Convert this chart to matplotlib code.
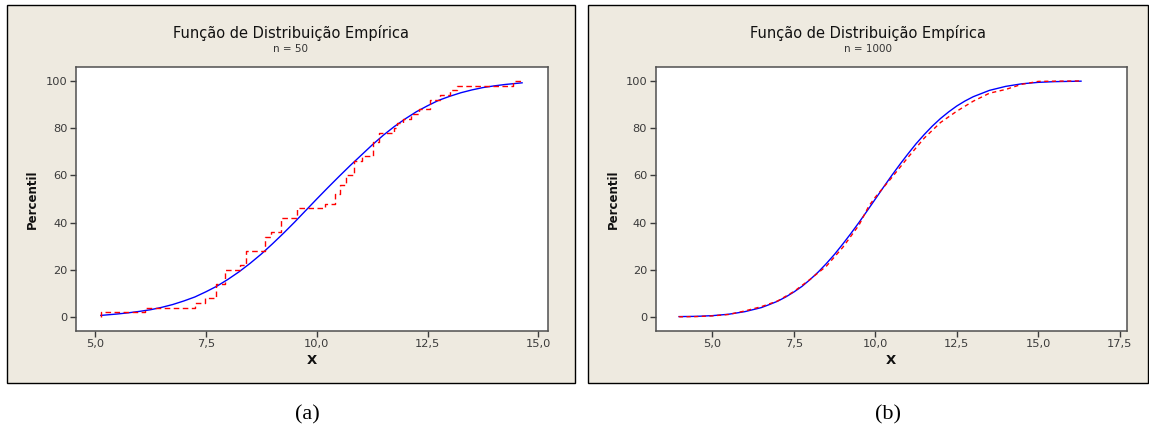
import matplotlib
matplotlib.use("Agg")
import matplotlib.pyplot as plt
from matplotlib.patches import Rectangle

# =======================
# Dados
# =======================
# n = 50 : pontos de salto da FDE e percentil acumulado depois de cada salto
fde50_x = [5.13, 6.13, 7.26, 7.48, 7.72, 7.94, 8.27, 8.41, 8.84, 8.96,
           9.19, 9.55, 10.19, 10.40, 10.52, 10.65, 10.85, 11.03, 11.26, 11.40,
           11.74, 11.82, 11.95, 12.12, 12.30, 12.55, 12.77, 13.00, 13.16, 14.43]
fde50_pct = [2, 4, 6, 8, 14, 20, 22, 28, 34, 36,
             42, 46, 48, 52, 56, 60, 66, 68, 74, 78,
             80, 82, 84, 86, 88, 92, 94, 96, 98, 100]
fde50_max = 14.63

# n = 50 : curva normal ajustada
normal50_x = [5.13, 5.5, 5.75, 6.0, 6.25, 6.5, 6.75, 7.0, 7.25, 7.5, 7.75,
              8.0, 8.25, 8.5, 8.75, 9.0, 9.25, 9.5, 9.75, 10.0, 10.25,
              10.5, 10.75, 11.0, 11.25, 11.5, 11.75, 12.0, 12.25, 12.5, 12.75,
              13.0, 13.25, 13.5, 13.75, 14.0, 14.25, 14.63]
normal50_pct = [0.7, 1.3, 1.8, 2.4, 3.1, 4.1, 5.3, 6.8, 8.5, 10.7, 13.1,
                16.0, 19.2, 22.8, 26.7, 31.0, 35.5, 40.2, 45.1, 50.0, 54.8,
                59.5, 64.1, 68.5, 72.9, 77.0, 80.7, 84.0, 87.0, 89.5, 91.8,
                93.5, 95.0, 96.2, 97.2, 97.9, 98.5, 99.2]

# n = 1000 : FDE (degraus muito finos, lida como curva)
fde1000_x = [3.98, 3.98, 4.5, 5.0, 5.5, 6.0, 6.5, 7.0, 7.5, 8.0, 8.5, 9.0,
             9.5, 9.8, 10.0, 10.5, 11.0, 11.5, 12.0, 12.5, 13.0, 13.5,
             14.0, 14.5, 15.0, 15.5, 16.31]
fde1000_pct = [0.0, 0.1, 0.2, 0.5, 1.1, 2.6, 4.4, 6.8, 10.8, 16.0, 21.6, 29.5,
               39.0, 47.0, 50.8, 59.0, 67.6, 75.8, 82.4, 87.2, 91.4, 94.8,
               96.4, 98.6, 99.8, 99.9, 100.0]

# n = 1000 : curva normal ajustada
normal1000_x = [3.98, 4.5, 5.0, 5.5, 6.0, 6.5, 6.75, 7.0, 7.25, 7.5, 7.75, 8.0,
                8.25, 8.5, 8.75, 9.0, 9.25, 9.5, 9.75, 10.0, 10.25, 10.5, 10.75,
                11.0, 11.25, 11.5, 11.75, 12.0, 12.25, 12.5, 12.75, 13.0, 13.5,
                14.0, 14.5, 15.0, 15.5, 16.31]
normal1000_pct = [0.2, 0.3, 0.6, 1.2, 2.3, 4.0, 5.3, 6.7, 8.5, 10.6, 13.0, 15.9,
                  19.1, 22.7, 26.6, 30.9, 35.4, 40.1, 45.0, 50.0, 55.0, 59.9, 64.6,
                  69.1, 73.4, 77.3, 80.9, 84.1, 86.9, 89.4, 91.5, 93.3, 96.0,
                  97.7, 98.8, 99.4, 99.7, 99.9]

titulo = "Função de Distribuição Empírica"
subtitulos = ["n = 50", "n = 1000"]
legendas = ["(a)", "(b)"]
xticks_50 = [5.0, 7.5, 10.0, 12.5, 15.0]
xticks_1000 = [5.0, 7.5, 10.0, 12.5, 15.0, 17.5]
yticks = [0, 20, 40, 60, 80, 100]

# =======================
# Layout (pixels)
# =======================
W, H = 1149, 428
BEGE = "#EEEAE0"
CINZA = "#3a3a3a"


def caixa(x0, y0, x1, y1):
    # retângulo em pixels (origem no topo) -> coordenadas de figura
    return [x0 / W, 1 - y1 / H, (x1 - x0) / W, (y1 - y0) / H]


def fmt(v):
    return f"{v:.1f}".replace(".", ",")


fig = plt.figure(figsize=(W / 100, H / 100), dpi=100)
fig.patch.set_facecolor("white")


def painel(quadro, eixo, xlim, xticks, subtitulo, legenda, leg_x):
    qx0, qy0, qx1, qy1 = quadro
    r = caixa(*quadro)
    # moldura bege por trás do gráfico
    fig.patches.append(Rectangle((r[0], r[1]), r[2], r[3], transform=fig.transFigure,
                                 facecolor=BEGE, edgecolor="black", lw=1.0, zorder=-1))
    ax = fig.add_axes(caixa(*eixo))
    ax.set_zorder(1)
    ax.set_facecolor("white")
    ax.set_xlim(*xlim)
    ax.set_ylim(-5.9, 105.9)
    ax.set_xticks(xticks)
    ax.set_xticklabels([fmt(v) for v in xticks])
    ax.set_yticks(yticks)
    ax.set_yticklabels([str(v) for v in yticks])
    ax.tick_params(direction="out", length=4, width=1, color=CINZA,
                   labelcolor=CINZA, labelsize=8.2, pad=2)
    for s in ax.spines.values():
        s.set_color("#505050")
        s.set_linewidth(1.1)

    cx = (qx0 + qx1) / 2
    fig.text(cx / W, 1 - 33 / H, titulo, ha="center", va="center",
             fontsize=10.5, color="#111111")
    fig.text(cx / W, 1 - 49.5 / H, subtitulo, ha="center", va="center",
             fontsize=7.5, color="#333333")
    ex = (eixo[0] + eixo[2]) / 2
    fig.text(ex / W, 1 - 361 / H, "X", ha="center", va="center",
             fontsize=9.5, fontweight="bold", color="#111111")
    fig.text((qx0 + 25.5) / W, 1 - 199 / H, "Percentil", ha="center", va="center",
             rotation=90, fontsize=8.5, fontweight="bold", color="#111111")
    fig.text(leg_x / W, 1 - 415 / H, legenda, ha="center", va="center",
             fontsize=16, family="Liberation Serif", color="black")
    return ax


# =======================
# Painel (a) : n = 50
# =======================
ax1 = painel((7, 5, 574.5, 382.5), (76, 67, 547.5, 331), (4.571, 15.203),
             xticks_50, subtitulos[0], legendas[0], 307)
ax1.plot(normal50_x, normal50_pct, color="#0000FF", lw=1.0, zorder=2)
degrau_x = [fde50_x[0]] + fde50_x + [fde50_max]
degrau_y = [0] + fde50_pct + [fde50_pct[-1]]
ax1.step(degrau_x, degrau_y, where="post", color="#FF0000", lw=1.0,
         linestyle=(0, (4, 2.5)), zorder=3)

# =======================
# Painel (b) : n = 1000
# =======================
ax2 = painel((587.5, 5, 1147.5, 382.5), (655.5, 67, 1127, 331), (3.256, 17.72),
             xticks_1000, subtitulos[1], legendas[1], 887.5)
ax2.plot(normal1000_x, normal1000_pct, color="#0000FF", lw=1.0, zorder=2)
ax2.plot(fde1000_x, fde1000_pct, color="#FF0000", lw=1.0,
         linestyle=(0, (3, 2.5)), zorder=3)

fig.savefig("out.png", dpi=100)
